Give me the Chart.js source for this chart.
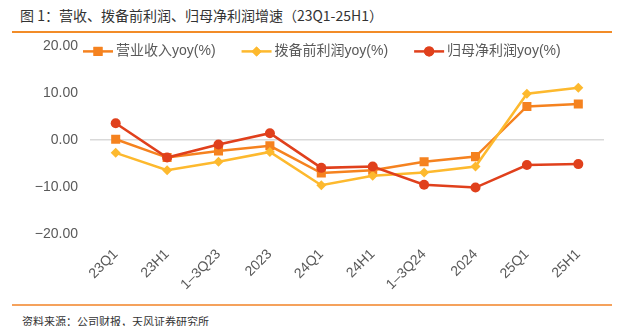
<!DOCTYPE html>
<html><head><meta charset="utf-8">
<script src="https://cdn.jsdelivr.net/npm/chart.js@4"></script>
<style>
html,body{margin:0;padding:0;background:#fff;width:626px;height:326px;overflow:hidden;font-family:"Noto Sans CJK SC",sans-serif;}
#title{position:absolute;left:20px;top:5px;font-size:14px;color:#333;white-space:nowrap;}
#topline{position:absolute;left:12px;width:600px;top:31px;height:2px;background:#F28C28;}
#botline{position:absolute;left:12px;width:600px;top:304px;height:2px;background:#F5A25C;}
#src{position:absolute;left:22px;top:315px;font-size:11px;line-height:12px;color:#333;white-space:nowrap;}
#wrap{position:absolute;left:0;top:26px;width:626px;height:276px;}
</style></head><body>
<div id="title">图 1：营收、拨备前利润、归母净利润增速（23Q1-25H1）</div>
<div id="topline"></div>
<div id="wrap"><canvas id="c"></canvas></div>
<div id="botline"></div>
<div id="src">资料来源：公司财报，天风证券研究所</div>
<script>
const categories = ["23Q1","23H1","1\u20133Q23","2023","24Q1","24H1","1\u20133Q24","2024","25Q1","25H1"];
const seriesNames = ["营业收入yoy(%)","拨备前利润yoy(%)","归母净利润yoy(%)"];
const revenue = [0.2,-3.7,-2.3,-1.2,-7.0,-6.4,-4.6,-3.5,7.2,7.7];
const ppop = [-2.7,-6.4,-4.6,-2.5,-9.6,-7.6,-6.9,-5.6,9.9,11.2];
const netProfit = [3.6,-3.7,-0.9,1.5,-5.9,-5.6,-9.5,-10.1,-5.3,-5.1];
const yTicks = [-20,-10,0,10,20];

const colors = ["#F5821F","#FDB92E","#E0401C"];
const styles = ["rect","rectRot","circle"];
const radii = [6.4,5,5];

const dataArrays = [revenue, ppop, netProfit];
const datasets = dataArrays.map((d,i)=>({
  label: seriesNames[i],
  data: d,
  borderColor: colors[i],
  backgroundColor: colors[i],
  borderWidth: 2.5,
  pointStyle: styles[i],
  pointRadius: radii[i],
  pointHoverRadius: radii[i],
  pointBorderWidth: 0,
  tension: 0,
  fill: false,
  order: 3 - i
}));

const lineLegend = {
  id: 'lineLegend',
  afterDraw(chart) {
    const ctx = chart.ctx;
    const area = chart.chartArea;
    const font = '14px "Liberation Sans","Noto Sans CJK SC",sans-serif';
    ctx.save();
    ctx.font = font;
    ctx.textBaseline = 'middle';
    let x = area.left - 7;
    const y = area.top + 4.5;
    chart.data.datasets.forEach((ds, i) => {
      ctx.strokeStyle = colors[i]; ctx.fillStyle = colors[i]; ctx.lineWidth = 2.5;
      ctx.beginPath(); ctx.moveTo(x, y + 0.5); ctx.lineTo(x + 30, y + 0.5); ctx.stroke();
      Chart.helpers.drawPoint(ctx, { pointStyle: styles[i], radius: radii[i], rotation: 0, borderWidth: 0 }, x + 15, y + 0.5);
      ctx.fill();
      ctx.fillStyle = '#595959';
      ctx.fillText(ds.label, x + 33, y);
      x += 33 + ctx.measureText(ds.label).width + 26;
    });
    ctx.restore();
  }
};

new Chart(document.getElementById('c'), {
  type: 'line',
  data: { labels: categories, datasets: datasets },
  plugins: [lineLegend],
  options: {
    responsive: true, maintainAspectRatio: false, animation: false,
    layout: { padding: { top: 0, right: 22, left: 0, bottom: 0 } },
    plugins: { tooltip: { enabled: false }, legend: { display: false } },
    scales: {
      x: {
        offset: true,
        grid: { display: false, drawTicks: false },
        border: { display: false },
        ticks: { color: '#595959', maxRotation: 45, minRotation: 45, padding: 12,
          font: { size: 14, family: '"Liberation Sans",sans-serif' } },
        afterFit: (a) => { a.height = 68; }
      },
      y: {
        min: -20, max: 20,
        afterBuildTicks: (a) => { a.ticks = yTicks.map(v=>({value:v})); },
        grid: { drawTicks: false, color: (c)=> c.tick && c.tick.value === 0 ? '#D9D9D9' : 'rgba(0,0,0,0)', lineWidth: 1.5 },
        border: { display: false },
        ticks: { color: '#595959', padding: 12,
          font: { size: 14, family: '"Liberation Sans",sans-serif' },
          callback: (v) => (v < 0 ? '\u2212' : '') + Math.abs(v).toFixed(2) },
        afterFit: (a) => { a.width = 90; }
      }
    }
  }
});
</script>
</body></html>
